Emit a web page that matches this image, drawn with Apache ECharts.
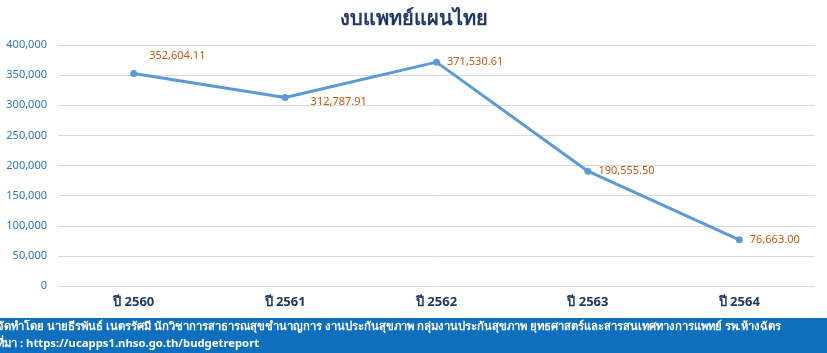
<!DOCTYPE html>
<html>
<head>
<meta charset="utf-8">
<script src="https://cdn.jsdelivr.net/npm/echarts@6/dist/echarts.min.js"></script>
<style>
  html, body { margin: 0; padding: 0; background: #fff; }
  #chart { width: 827px; height: 353px; }
</style>
</head>
<body>
<div id="chart"></div>
<script>
const years = ['ปี 2560', 'ปี 2561', 'ปี 2562', 'ปี 2563', 'ปี 2564']
const budget = [352604.11, 312787.91, 371530.61, 190555.5, 76663.0]
const labelPos = ['up', 'down', 'right', 'right', 'right']

const footerLine1 = 'จัดทำโดย นายธีรพันธ์ เนตรรัศมี นักวิชาการสาธารณสุขชำนาญการ งานประกันสุขภาพ กลุ่มงานประกันสุขภาพ ยุทธศาสตร์และสารสนเทศทางการแพทย์ รพ.ห้างฉัตร'
const footerLine2 = 'ที่มา : https://ucapps1.nhso.go.th/budgetreport'

const fmt = (v) =>
  v.toLocaleString('en-US', { minimumFractionDigits: 2, maximumFractionDigits: 2 })

// where each data label sits relative to its point
const posFor = (p) => {
  if (p === 'up') return [19, -20]
  if (p === 'down') return [29, 2]
  return 'right'
}

const chart = echarts.init(document.getElementById('chart'))

const option = {
  animation: false,
  textStyle: { fontFamily: 'Noto Sans, sans-serif' },
  title: {
    text: 'งบแพทย์แผนไทย',
    left: 'center',
    top: 4,
    textStyle: { fontSize: 20, fontWeight: 'bold', color: '#1f3864' },
  },
  grid: { left: 58, right: 12, top: 45, bottom: 67 },
  xAxis: {
    type: 'category',
    data: years,
    axisLine: { show: false },
    axisTick: { show: false },
    axisLabel: { fontSize: 13, fontWeight: 'bold', color: '#1f3864', margin: 10 },
  },
  yAxis: {
    type: 'value',
    min: 0,
    max: 400000,
    interval: 50000,
    axisLabel: {
      fontSize: 11,
      color: '#2e75b6',
      margin: 11,
      formatter: (v) => v.toLocaleString('en-US'),
    },
    splitLine: { lineStyle: { color: '#d9d9d9' } },
  },
  series: [
    {
      type: 'line',
      data: budget.map((v, i) => ({
        value: v,
        label: { position: posFor(labelPos[i]) },
      })),
      symbol: 'circle',
      symbolSize: 7,
      lineStyle: { color: '#5b9bd5', width: 3 },
      itemStyle: { color: '#5b9bd5' },
      label: {
        show: true,
        fontSize: 11,
        color: '#c55a11',
        distance: 7,
        formatter: (p) => fmt(p.value),
      },
    },
  ],
  graphic: [
    {
      type: 'rect',
      left: 0,
      top: 318,
      shape: { width: 827, height: 35 },
      style: { fill: '#0e6fbf' },
    },
    {
      type: 'text',
      left: -3,
      top: 321,
      style: {
        text: footerLine1,
        fill: '#fff',
        font: 'bold 11.3px "Noto Sans", sans-serif',
      },
    },
    {
      type: 'text',
      left: -3,
      top: 338,
      style: {
        text: footerLine2,
        fill: '#fff',
        font: 'bold 11.3px "Noto Sans", sans-serif',
      },
    },
  ],
}

chart.setOption(option)
</script>
</body>
</html>
